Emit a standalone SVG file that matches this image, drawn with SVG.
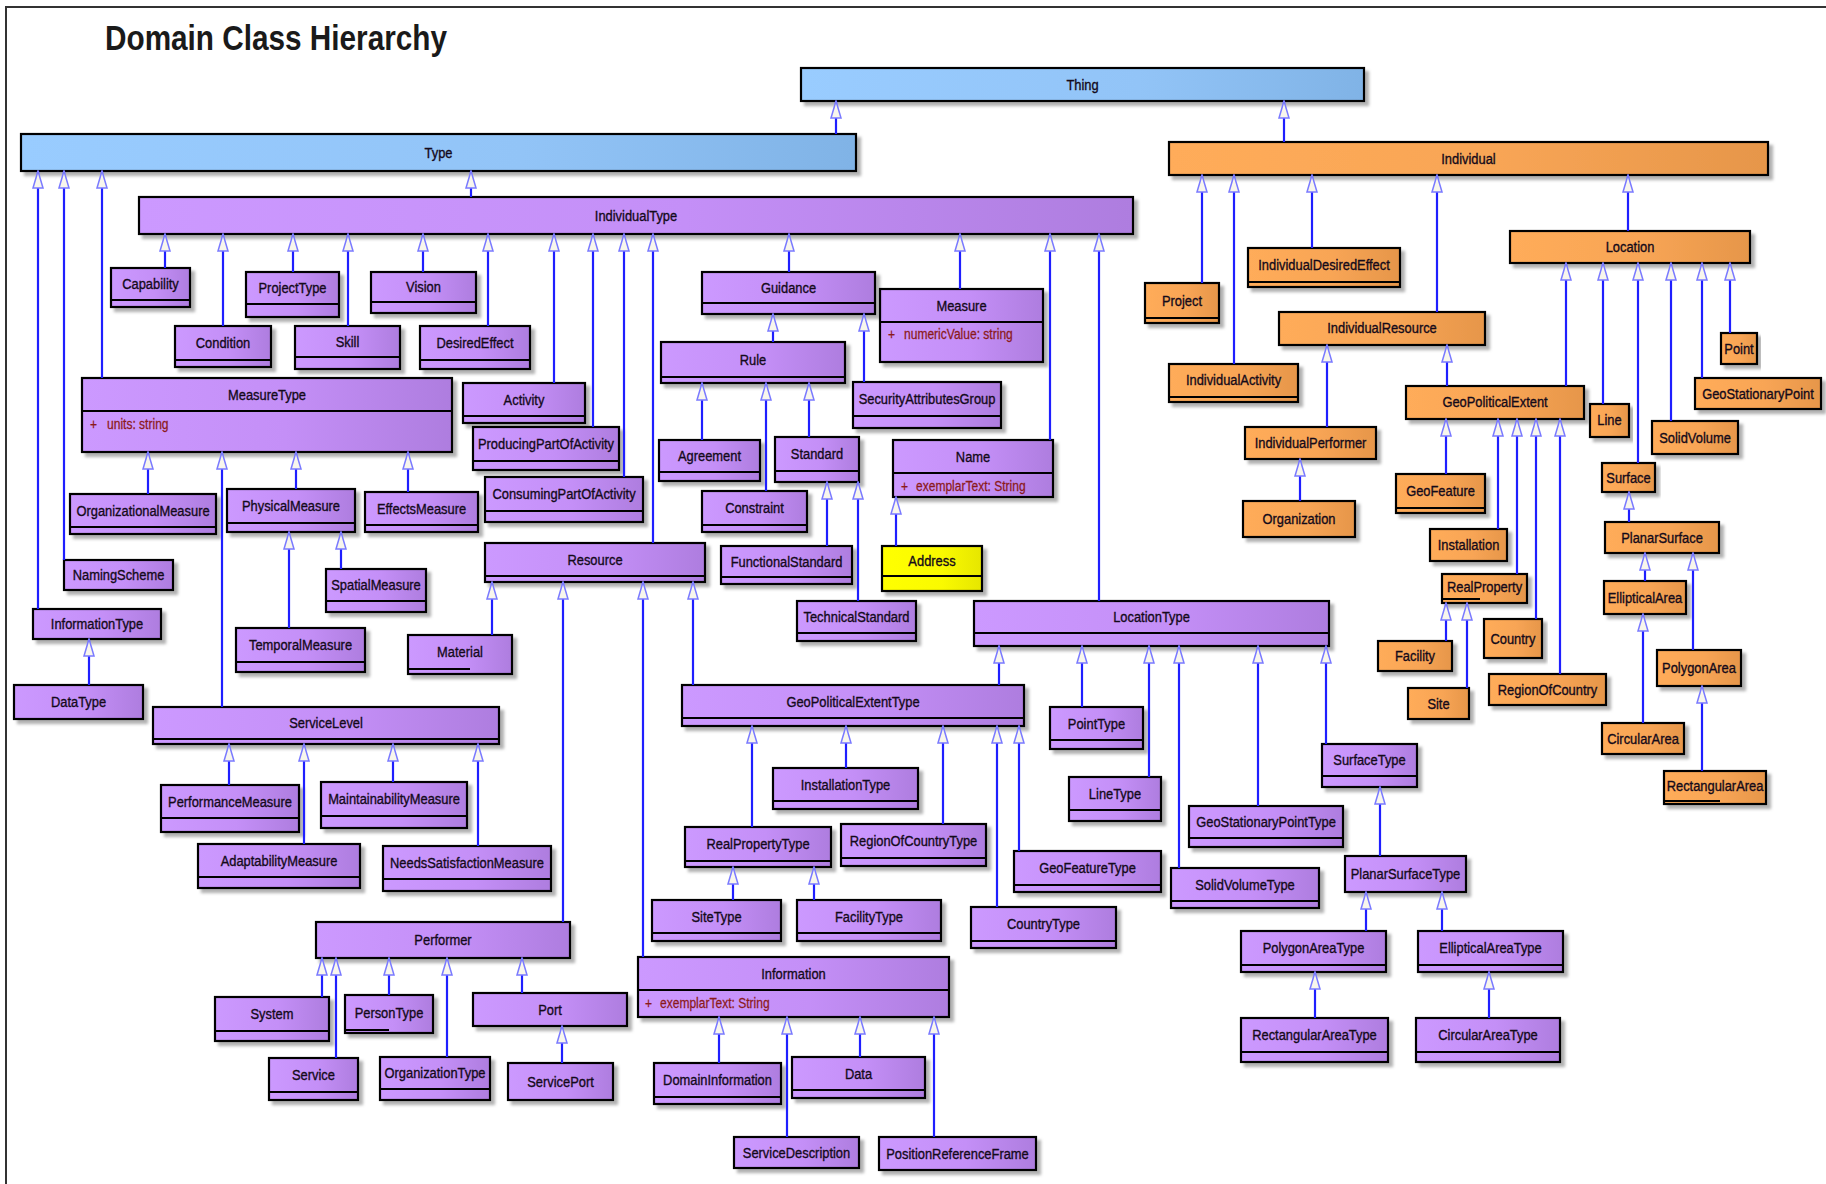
<svg xmlns="http://www.w3.org/2000/svg" width="1826" height="1184" viewBox="0 0 1826 1184">
<defs>
<linearGradient id="gp" x1="0" y1="0" x2="1" y2="0"><stop offset="0" stop-color="#cc99ff"/><stop offset="0.55" stop-color="#c48ff7"/><stop offset="1" stop-color="#ae7ddf"/></linearGradient>
<linearGradient id="go" x1="0" y1="0" x2="1" y2="0"><stop offset="0" stop-color="#ffac5a"/><stop offset="0.55" stop-color="#f8a555"/><stop offset="1" stop-color="#e6964a"/></linearGradient>
<linearGradient id="gb" x1="0" y1="0" x2="1" y2="0"><stop offset="0" stop-color="#99ccff"/><stop offset="0.6" stop-color="#92c4f7"/><stop offset="1" stop-color="#80b3e6"/></linearGradient>
<linearGradient id="gy" x1="0" y1="0" x2="1" y2="0"><stop offset="0" stop-color="#ffff00"/><stop offset="0.6" stop-color="#fafa00"/><stop offset="1" stop-color="#e6e600"/></linearGradient>
<filter id="sh" x="-5%" y="-10%" width="115%" height="140%"><feDropShadow dx="4" dy="4" stdDeviation="1.5" flood-color="#000" flood-opacity="0.3"/></filter>
<marker id="tri" viewBox="0 0 19 12" refX="18" refY="6" markerWidth="19" markerHeight="12" markerUnits="userSpaceOnUse" orient="auto"><path d="M1,1 L18,6 L1,11 Z" fill="#f8f6ec" stroke="#7a7aff" stroke-width="1.5"/></marker>
<style>
.b{stroke:#000;stroke-width:2.2;filter:url(#sh)}
.p{fill:url(#gp)}.o{fill:url(#go)}.bl{fill:url(#gb)}.y{fill:url(#gy)}
.cl{stroke:#000;stroke-width:2}
.lb{font-family:'Liberation Sans',Arial,sans-serif;font-size:15px;fill:#140a1a;stroke:#140a1a;stroke-width:0.35;text-anchor:middle}
.at{font-family:'Liberation Sans',Arial,sans-serif;font-size:14px;fill:#8b1a1a;stroke:#8b1a1a;stroke-width:0.25}
.e{stroke:#1f1fff;stroke-width:2.2;fill:none;marker-end:url(#tri)}
.fr{stroke:#333;stroke-width:2;fill:none}
.ti{font-family:'Liberation Sans',Arial,sans-serif;font-size:35px;font-weight:bold;fill:#1a1a1a}
</style>
</defs>
<rect width="1826" height="1184" fill="#fff"/>
<path class="fr" d="M6,1184 V7 H1826"/>
<text class="ti" x="105" y="50" textLength="342" lengthAdjust="spacingAndGlyphs">Domain Class Hierarchy</text>

<g id="nodes">
<g id="Thing"><rect class="b bl" x="801" y="68" width="563" height="33"/><text class="lb" transform="translate(1082.5,90) scale(0.86,1)">Thing</text></g>
<g id="Type"><rect class="b bl" x="21" y="134" width="835" height="37"/><text class="lb" transform="translate(438.5,158) scale(0.86,1)">Type</text></g>

<g id="Individual"><rect class="b o" x="1169" y="142" width="599" height="33"/><text class="lb" transform="translate(1468.5,164) scale(0.86,1)">Individual</text></g>
<g id="Location"><rect class="b o" x="1510" y="231" width="240" height="32"/><text class="lb" transform="translate(1630,252) scale(0.86,1)">Location</text></g>
<g id="IndividualDesiredEffect"><rect class="b o" x="1248" y="248" width="152" height="39"/><line class="cl" x1="1248" y1="282" x2="1400" y2="282"/><text class="lb" transform="translate(1324,270) scale(0.86,1)">IndividualDesiredEffect</text></g>
<g id="Project"><rect class="b o" x="1145" y="283" width="74" height="40"/><line class="cl" x1="1145" y1="318" x2="1219" y2="318"/><text class="lb" transform="translate(1182,306) scale(0.86,1)">Project</text></g>
<g id="IndividualActivity"><rect class="b o" x="1169" y="364" width="129" height="38"/><line class="cl" x1="1169" y1="397" x2="1298" y2="397"/><text class="lb" transform="translate(1233.5,385) scale(0.86,1)">IndividualActivity</text></g>
<g id="IndividualResource"><rect class="b o" x="1279" y="312" width="206" height="33"/><text class="lb" transform="translate(1382,333) scale(0.86,1)">IndividualResource</text></g>
<g id="IndividualPerformer"><rect class="b o" x="1245" y="427" width="131" height="32"/><text class="lb" transform="translate(1310.5,448) scale(0.86,1)">IndividualPerformer</text></g>
<g id="Organization"><rect class="b o" x="1243" y="501" width="112" height="36"/><text class="lb" transform="translate(1299,524) scale(0.86,1)">Organization</text></g>
<g id="GeoPoliticalExtent"><rect class="b o" x="1406" y="386" width="178" height="33"/><text class="lb" transform="translate(1495,407) scale(0.86,1)">GeoPoliticalExtent</text></g>
<g id="GeoFeature"><rect class="b o" x="1396" y="474" width="89" height="39"/><line class="cl" x1="1396" y1="508" x2="1485" y2="508"/><text class="lb" transform="translate(1440.5,496) scale(0.86,1)">GeoFeature</text></g>
<g id="Installation"><rect class="b o" x="1430" y="529" width="77" height="32"/><text class="lb" transform="translate(1468.5,550) scale(0.86,1)">Installation</text></g>
<g id="RealProperty"><rect class="b o" x="1442" y="574" width="85" height="29"/><line class="cl" x1="1442" y1="599" x2="1480" y2="599"/><text class="lb" transform="translate(1484.5,592) scale(0.86,1)">RealProperty</text></g>
<g id="Line"><rect class="b o" x="1590" y="404" width="39" height="33"/><text class="lb" transform="translate(1609.5,425) scale(0.86,1)">Line</text></g>
<g id="Point"><rect class="b o" x="1721" y="333" width="36" height="31"/><text class="lb" transform="translate(1739,354) scale(0.86,1)">Point</text></g>
<g id="GeoStationaryPoint"><rect class="b o" x="1695" y="378" width="126" height="31"/><text class="lb" transform="translate(1758,399) scale(0.86,1)">GeoStationaryPoint</text></g>
<g id="SolidVolume"><rect class="b o" x="1652" y="421" width="86" height="33"/><text class="lb" transform="translate(1695,443) scale(0.86,1)">SolidVolume</text></g>
<g id="Surface"><rect class="b o" x="1602" y="463" width="53" height="29"/><text class="lb" transform="translate(1628.5,483) scale(0.86,1)">Surface</text></g>
<g id="PlanarSurface"><rect class="b o" x="1605" y="522" width="114" height="31"/><text class="lb" transform="translate(1662,543) scale(0.86,1)">PlanarSurface</text></g>
<g id="EllipticalArea"><rect class="b o" x="1604" y="581" width="82" height="33"/><text class="lb" transform="translate(1645,603) scale(0.86,1)">EllipticalArea</text></g>
<g id="PolygonArea"><rect class="b o" x="1657" y="650" width="84" height="36"/><text class="lb" transform="translate(1699,673) scale(0.86,1)">PolygonArea</text></g>
<g id="CircularArea"><rect class="b o" x="1602" y="723" width="82" height="31"/><text class="lb" transform="translate(1643,744) scale(0.86,1)">CircularArea</text></g>
<g id="RectangularArea"><rect class="b o" x="1664" y="771" width="102" height="33"/><line class="cl" x1="1664" y1="801" x2="1720" y2="801"/><text class="lb" transform="translate(1715,791) scale(0.86,1)">RectangularArea</text></g>
<g id="Facility"><rect class="b o" x="1378" y="641" width="74" height="30"/><text class="lb" transform="translate(1415,661) scale(0.86,1)">Facility</text></g>
<g id="Site"><rect class="b o" x="1408" y="688" width="61" height="31"/><text class="lb" transform="translate(1438.5,709) scale(0.86,1)">Site</text></g>
<g id="Country"><rect class="b o" x="1484" y="619" width="58" height="39"/><text class="lb" transform="translate(1513,644) scale(0.86,1)">Country</text></g>
<g id="RegionOfCountry"><rect class="b o" x="1489" y="674" width="117" height="31"/><text class="lb" transform="translate(1547.5,695) scale(0.86,1)">RegionOfCountry</text></g>

<g id="IndividualType"><rect class="b p" x="139" y="197" width="994" height="37"/><text class="lb" transform="translate(636,221) scale(0.86,1)">IndividualType</text></g>
<g id="Capability"><rect class="b p" x="111" y="268" width="79" height="39"/><line class="cl" x1="111" y1="300" x2="190" y2="300"/><text class="lb" transform="translate(150.5,289) scale(0.86,1)">Capability</text></g>
<g id="ProjectType"><rect class="b p" x="246" y="272" width="93" height="45"/><line class="cl" x1="246" y1="304" x2="339" y2="304"/><text class="lb" transform="translate(292.5,293) scale(0.86,1)">ProjectType</text></g>
<g id="Vision"><rect class="b p" x="371" y="272" width="105" height="41"/><line class="cl" x1="371" y1="302" x2="476" y2="302"/><text class="lb" transform="translate(423.5,292) scale(0.86,1)">Vision</text></g>
<g id="Condition"><rect class="b p" x="175" y="326" width="96" height="41"/><line class="cl" x1="175" y1="360" x2="271" y2="360"/><text class="lb" transform="translate(223,348) scale(0.86,1)">Condition</text></g>
<g id="Skill"><rect class="b p" x="295" y="326" width="105" height="43"/><line class="cl" x1="295" y1="357" x2="400" y2="357"/><text class="lb" transform="translate(347.5,347) scale(0.86,1)">Skill</text></g>
<g id="DesiredEffect"><rect class="b p" x="420" y="326" width="110" height="43"/><line class="cl" x1="420" y1="360" x2="530" y2="360"/><text class="lb" transform="translate(475,348) scale(0.86,1)">DesiredEffect</text></g>
<g id="MeasureType"><rect class="b p" x="82" y="378" width="370" height="74"/><line class="cl" x1="82" y1="411" x2="452" y2="411"/><text class="lb" transform="translate(267,400) scale(0.86,1)">MeasureType</text><text class="at" transform="translate(90,429) scale(0.86,1)">+</text><text class="at" transform="translate(107,429) scale(0.86,1)">units: string</text></g>
<g id="Activity"><rect class="b p" x="463" y="383" width="122" height="40"/><line class="cl" x1="463" y1="416" x2="585" y2="416"/><text class="lb" transform="translate(524,405) scale(0.86,1)">Activity</text></g>
<g id="ProducingPartOfActivity"><rect class="b p" x="473" y="427" width="146" height="43"/><line class="cl" x1="473" y1="461" x2="619" y2="461"/><text class="lb" transform="translate(546,449) scale(0.86,1)">ProducingPartOfActivity</text></g>
<g id="ConsumingPartOfActivity"><rect class="b p" x="485" y="477" width="158" height="45"/><line class="cl" x1="485" y1="511" x2="643" y2="511"/><text class="lb" transform="translate(564,499) scale(0.86,1)">ConsumingPartOfActivity</text></g>
<g id="Resource"><rect class="b p" x="485" y="543" width="220" height="39"/><line class="cl" x1="485" y1="576" x2="705" y2="576"/><text class="lb" transform="translate(595,565) scale(0.86,1)">Resource</text></g>
<g id="OrganizationalMeasure"><rect class="b p" x="70" y="494" width="146" height="40"/><line class="cl" x1="70" y1="527" x2="216" y2="527"/><text class="lb" transform="translate(143,516) scale(0.86,1)">OrganizationalMeasure</text></g>
<g id="PhysicalMeasure"><rect class="b p" x="227" y="489" width="128" height="43"/><line class="cl" x1="227" y1="523" x2="355" y2="523"/><text class="lb" transform="translate(291,511) scale(0.86,1)">PhysicalMeasure</text></g>
<g id="EffectsMeasure"><rect class="b p" x="365" y="492" width="113" height="40"/><line class="cl" x1="365" y1="525" x2="478" y2="525"/><text class="lb" transform="translate(421.5,514) scale(0.86,1)">EffectsMeasure</text></g>
<g id="NamingScheme"><rect class="b p" x="64" y="560" width="109" height="30"/><text class="lb" transform="translate(118.5,580) scale(0.86,1)">NamingScheme</text></g>
<g id="SpatialMeasure"><rect class="b p" x="326" y="569" width="100" height="43"/><line class="cl" x1="326" y1="601" x2="426" y2="601"/><text class="lb" transform="translate(376,590) scale(0.86,1)">SpatialMeasure</text></g>
<g id="InformationType"><rect class="b p" x="33" y="609" width="128" height="30"/><text class="lb" transform="translate(97,629) scale(0.86,1)">InformationType</text></g>
<g id="DataType"><rect class="b p" x="14" y="685" width="129" height="34"/><text class="lb" transform="translate(78.5,707) scale(0.86,1)">DataType</text></g>
<g id="TemporalMeasure"><rect class="b p" x="236" y="628" width="129" height="44"/><line class="cl" x1="236" y1="662" x2="365" y2="662"/><text class="lb" transform="translate(300.5,650) scale(0.86,1)">TemporalMeasure</text></g>
<g id="Material"><rect class="b p" x="408" y="635" width="104" height="39"/><line class="cl" x1="408" y1="669" x2="470" y2="669"/><text class="lb" transform="translate(460,657) scale(0.86,1)">Material</text></g>
<g id="ServiceLevel"><rect class="b p" x="153" y="707" width="346" height="37"/><line class="cl" x1="153" y1="739" x2="499" y2="739"/><text class="lb" transform="translate(326,728) scale(0.86,1)">ServiceLevel</text></g>
<g id="PerformanceMeasure"><rect class="b p" x="161" y="785" width="138" height="47"/><line class="cl" x1="161" y1="818" x2="299" y2="818"/><text class="lb" transform="translate(230,807) scale(0.86,1)">PerformanceMeasure</text></g>
<g id="MaintainabilityMeasure"><rect class="b p" x="321" y="782" width="146" height="46"/><line class="cl" x1="321" y1="816" x2="467" y2="816"/><text class="lb" transform="translate(394,804) scale(0.86,1)">MaintainabilityMeasure</text></g>
<g id="AdaptabilityMeasure"><rect class="b p" x="198" y="844" width="162" height="44"/><line class="cl" x1="198" y1="877" x2="360" y2="877"/><text class="lb" transform="translate(279,866) scale(0.86,1)">AdaptabilityMeasure</text></g>
<g id="NeedsSatisfactionMeasure"><rect class="b p" x="383" y="846" width="168" height="45"/><line class="cl" x1="383" y1="879" x2="551" y2="879"/><text class="lb" transform="translate(467,868) scale(0.86,1)">NeedsSatisfactionMeasure</text></g>
<g id="Performer"><rect class="b p" x="316" y="922" width="254" height="36"/><text class="lb" transform="translate(443,945) scale(0.86,1)">Performer</text></g>
<g id="System"><rect class="b p" x="215" y="997" width="114" height="44"/><line class="cl" x1="215" y1="1031" x2="329" y2="1031"/><text class="lb" transform="translate(272,1019) scale(0.86,1)">System</text></g>
<g id="PersonType"><rect class="b p" x="345" y="995" width="88" height="38"/><line class="cl" x1="345" y1="1030" x2="389" y2="1030"/><text class="lb" transform="translate(389,1018) scale(0.86,1)">PersonType</text></g>
<g id="Port"><rect class="b p" x="473" y="993" width="154" height="33"/><text class="lb" transform="translate(550,1015) scale(0.86,1)">Port</text></g>
<g id="Service"><rect class="b p" x="269" y="1058" width="89" height="42"/><line class="cl" x1="269" y1="1092" x2="358" y2="1092"/><text class="lb" transform="translate(313.5,1080) scale(0.86,1)">Service</text></g>
<g id="OrganizationType"><rect class="b p" x="380" y="1057" width="110" height="43"/><line class="cl" x1="380" y1="1089" x2="490" y2="1089"/><text class="lb" transform="translate(435,1078) scale(0.86,1)">OrganizationType</text></g>
<g id="ServicePort"><rect class="b p" x="508" y="1063" width="105" height="37"/><text class="lb" transform="translate(560.5,1087) scale(0.86,1)">ServicePort</text></g>
<g id="Information"><rect class="b p" x="638" y="957" width="311" height="60"/><line class="cl" x1="638" y1="990" x2="949" y2="990"/><text class="lb" transform="translate(793.5,979) scale(0.86,1)">Information</text><text class="at" transform="translate(645,1008) scale(0.86,1)">+</text><text class="at" transform="translate(660,1008) scale(0.86,1)">exemplarText: String</text></g>
<g id="DomainInformation"><rect class="b p" x="654" y="1063" width="127" height="41"/><line class="cl" x1="654" y1="1097" x2="781" y2="1097"/><text class="lb" transform="translate(717.5,1085) scale(0.86,1)">DomainInformation</text></g>
<g id="Data"><rect class="b p" x="792" y="1057" width="133" height="41"/><line class="cl" x1="792" y1="1090" x2="925" y2="1090"/><text class="lb" transform="translate(858.5,1079) scale(0.86,1)">Data</text></g>
<g id="ServiceDescription"><rect class="b p" x="734" y="1137" width="125" height="31"/><text class="lb" transform="translate(796.5,1158) scale(0.86,1)">ServiceDescription</text></g>
<g id="PositionReferenceFrame"><rect class="b p" x="879" y="1137" width="157" height="33"/><text class="lb" transform="translate(957.5,1159) scale(0.86,1)">PositionReferenceFrame</text></g>
<g id="SiteType"><rect class="b p" x="652" y="900" width="129" height="41"/><line class="cl" x1="652" y1="933" x2="781" y2="933"/><text class="lb" transform="translate(716.5,922) scale(0.86,1)">SiteType</text></g>
<g id="FacilityType"><rect class="b p" x="797" y="900" width="144" height="41"/><line class="cl" x1="797" y1="933" x2="941" y2="933"/><text class="lb" transform="translate(869,922) scale(0.86,1)">FacilityType</text></g>
<g id="CountryType"><rect class="b p" x="971" y="907" width="145" height="41"/><line class="cl" x1="971" y1="941" x2="1116" y2="941"/><text class="lb" transform="translate(1043.5,929) scale(0.86,1)">CountryType</text></g>
<g id="GeoFeatureType"><rect class="b p" x="1014" y="851" width="147" height="41"/><line class="cl" x1="1014" y1="885" x2="1161" y2="885"/><text class="lb" transform="translate(1087.5,873) scale(0.86,1)">GeoFeatureType</text></g>
<g id="SolidVolumeType"><rect class="b p" x="1171" y="868" width="148" height="40"/><line class="cl" x1="1171" y1="901" x2="1319" y2="901"/><text class="lb" transform="translate(1245,890) scale(0.86,1)">SolidVolumeType</text></g>
<g id="PlanarSurfaceType"><rect class="b p" x="1345" y="856" width="121" height="36"/><text class="lb" transform="translate(1405.5,879) scale(0.86,1)">PlanarSurfaceType</text></g>
<g id="PolygonAreaType"><rect class="b p" x="1241" y="931" width="145" height="41"/><line class="cl" x1="1241" y1="965" x2="1386" y2="965"/><text class="lb" transform="translate(1313.5,953) scale(0.86,1)">PolygonAreaType</text></g>
<g id="EllipticalAreaType"><rect class="b p" x="1418" y="931" width="145" height="41"/><line class="cl" x1="1418" y1="965" x2="1563" y2="965"/><text class="lb" transform="translate(1490.5,953) scale(0.86,1)">EllipticalAreaType</text></g>
<g id="RectangularAreaType"><rect class="b p" x="1241" y="1018" width="147" height="44"/><line class="cl" x1="1241" y1="1052" x2="1388" y2="1052"/><text class="lb" transform="translate(1314.5,1040) scale(0.86,1)">RectangularAreaType</text></g>
<g id="CircularAreaType"><rect class="b p" x="1416" y="1018" width="144" height="44"/><line class="cl" x1="1416" y1="1052" x2="1560" y2="1052"/><text class="lb" transform="translate(1488,1040) scale(0.86,1)">CircularAreaType</text></g>
<g id="GeoPoliticalExtentType"><rect class="b p" x="682" y="685" width="342" height="41"/><line class="cl" x1="682" y1="718" x2="1024" y2="718"/><text class="lb" transform="translate(853,707) scale(0.86,1)">GeoPoliticalExtentType</text></g>
<g id="InstallationType"><rect class="b p" x="773" y="768" width="145" height="41"/><line class="cl" x1="773" y1="801" x2="918" y2="801"/><text class="lb" transform="translate(845.5,790) scale(0.86,1)">InstallationType</text></g>
<g id="RealPropertyType"><rect class="b p" x="685" y="827" width="146" height="40"/><line class="cl" x1="685" y1="861" x2="831" y2="861"/><text class="lb" transform="translate(758,849) scale(0.86,1)">RealPropertyType</text></g>
<g id="RegionOfCountryType"><rect class="b p" x="841" y="824" width="145" height="42"/><line class="cl" x1="841" y1="858" x2="986" y2="858"/><text class="lb" transform="translate(913.5,846) scale(0.86,1)">RegionOfCountryType</text></g>
<g id="PointType"><rect class="b p" x="1050" y="707" width="93" height="42"/><line class="cl" x1="1050" y1="740" x2="1143" y2="740"/><text class="lb" transform="translate(1096.5,729) scale(0.86,1)">PointType</text></g>
<g id="LineType"><rect class="b p" x="1069" y="777" width="92" height="44"/><line class="cl" x1="1069" y1="810" x2="1161" y2="810"/><text class="lb" transform="translate(1115,799) scale(0.86,1)">LineType</text></g>
<g id="GeoStationaryPointType"><rect class="b p" x="1189" y="806" width="154" height="41"/><line class="cl" x1="1189" y1="838" x2="1343" y2="838"/><text class="lb" transform="translate(1266,827) scale(0.86,1)">GeoStationaryPointType</text></g>
<g id="SurfaceType"><rect class="b p" x="1322" y="744" width="95" height="43"/><line class="cl" x1="1322" y1="776" x2="1417" y2="776"/><text class="lb" transform="translate(1369.5,765) scale(0.86,1)">SurfaceType</text></g>
<g id="LocationType"><rect class="b p" x="974" y="601" width="355" height="45"/><line class="cl" x1="974" y1="633" x2="1329" y2="633"/><text class="lb" transform="translate(1151.5,622) scale(0.86,1)">LocationType</text></g>
<g id="TechnicalStandard"><rect class="b p" x="797" y="601" width="119" height="40"/><line class="cl" x1="797" y1="633" x2="916" y2="633"/><text class="lb" transform="translate(856.5,622) scale(0.86,1)">TechnicalStandard</text></g>
<g id="Address"><rect class="b y" x="882" y="546" width="100" height="45"/><line class="cl" x1="882" y1="576" x2="982" y2="576"/><text class="lb" transform="translate(932,566) scale(0.86,1)">Address</text></g>
<g id="FunctionalStandard"><rect class="b p" x="721" y="546" width="131" height="38"/><line class="cl" x1="721" y1="577" x2="852" y2="577"/><text class="lb" transform="translate(786.5,567) scale(0.86,1)">FunctionalStandard</text></g>
<g id="Constraint"><rect class="b p" x="702" y="491" width="105" height="41"/><line class="cl" x1="702" y1="525" x2="807" y2="525"/><text class="lb" transform="translate(754.5,513) scale(0.86,1)">Constraint</text></g>
<g id="Agreement"><rect class="b p" x="659" y="440" width="101" height="41"/><line class="cl" x1="659" y1="472" x2="760" y2="472"/><text class="lb" transform="translate(709.5,461) scale(0.86,1)">Agreement</text></g>
<g id="Standard"><rect class="b p" x="775" y="437" width="84" height="45"/><line class="cl" x1="775" y1="471" x2="859" y2="471"/><text class="lb" transform="translate(817,459) scale(0.86,1)">Standard</text></g>
<g id="Name"><rect class="b p" x="893" y="440" width="160" height="57"/><line class="cl" x1="893" y1="473" x2="1053" y2="473"/><text class="lb" transform="translate(973,462) scale(0.86,1)">Name</text><text class="at" transform="translate(901,491) scale(0.86,1)">+</text><text class="at" transform="translate(916,491) scale(0.86,1)">exemplarText: String</text></g>
<g id="Rule"><rect class="b p" x="661" y="342" width="184" height="41"/><line class="cl" x1="661" y1="377" x2="845" y2="377"/><text class="lb" transform="translate(753,365) scale(0.86,1)">Rule</text></g>
<g id="SecurityAttributesGroup"><rect class="b p" x="853" y="382" width="148" height="46"/><line class="cl" x1="853" y1="416" x2="1001" y2="416"/><text class="lb" transform="translate(927,404) scale(0.86,1)">SecurityAttributesGroup</text></g>
<g id="Measure"><rect class="b p" x="880" y="289" width="163" height="73"/><line class="cl" x1="880" y1="322" x2="1043" y2="322"/><text class="lb" transform="translate(961.5,311) scale(0.86,1)">Measure</text><text class="at" transform="translate(888,339) scale(0.86,1)">+</text><text class="at" transform="translate(904,339) scale(0.86,1)">numericValue: string</text></g>
<g id="Guidance"><rect class="b p" x="702" y="272" width="173" height="42"/><line class="cl" x1="702" y1="303" x2="875" y2="303"/><text class="lb" transform="translate(788.5,293) scale(0.86,1)">Guidance</text></g>
</g>

<g id="connectors">
<path class="e" d="M836,134V101"/><path class="e" d="M1284,142V101"/>
<path class="e" d="M471,197V171"/><path class="e" d="M38,609V171"/><path class="e" d="M64,560V171"/><path class="e" d="M102,378V171"/>
<path class="e" d="M165,268V234"/><path class="e" d="M223,326V234"/><path class="e" d="M293,272V234"/><path class="e" d="M348,326V234"/><path class="e" d="M423,272V234"/><path class="e" d="M488,326V234"/><path class="e" d="M554,383V234"/><path class="e" d="M593,427V234"/><path class="e" d="M624,477V234"/><path class="e" d="M653,543V234"/><path class="e" d="M789,272V234"/><path class="e" d="M960,289V234"/><path class="e" d="M1050,440V234"/><path class="e" d="M1099,601V234"/>
<path class="e" d="M1202,283V175"/><path class="e" d="M1234,364V175"/><path class="e" d="M1312,248V175"/><path class="e" d="M1437,312V175"/><path class="e" d="M1628,231V175"/>
<path class="e" d="M1566,386V263"/><path class="e" d="M1603,404V263"/><path class="e" d="M1638,463V263"/><path class="e" d="M1671,421V263"/><path class="e" d="M1702,378V263"/><path class="e" d="M1730,333V263"/>
<path class="e" d="M1327,427V345"/><path class="e" d="M1447,386V345"/>
<path class="e" d="M1300,501V459"/>
<path class="e" d="M1446,474V419"/><path class="e" d="M1498,529V419"/><path class="e" d="M1517,574V419"/><path class="e" d="M1536,619V419"/><path class="e" d="M1560,674V419"/>
<path class="e" d="M1446,641V603"/><path class="e" d="M1467,688V603"/>
<path class="e" d="M1629,522V492"/>
<path class="e" d="M1645,581V553"/><path class="e" d="M1693,650V553"/>
<path class="e" d="M1643,723V614"/>
<path class="e" d="M1702,771V686"/>
<path class="e" d="M773,342V314"/><path class="e" d="M864,382V314"/>
<path class="e" d="M702,440V383"/><path class="e" d="M766,491V383"/><path class="e" d="M809,437V383"/>
<path class="e" d="M827,546V482"/><path class="e" d="M858,601V482"/>
<path class="e" d="M896,546V497"/>
<path class="e" d="M148,494V452"/><path class="e" d="M222,707V452"/><path class="e" d="M296,489V452"/><path class="e" d="M408,492V452"/>
<path class="e" d="M289,628V532"/><path class="e" d="M341,569V532"/>
<path class="e" d="M89,685V639"/>
<path class="e" d="M229,785V744"/><path class="e" d="M304,844V744"/><path class="e" d="M393,782V744"/><path class="e" d="M478,846V744"/>
<path class="e" d="M492,635V582"/><path class="e" d="M563,922V582"/><path class="e" d="M643,957V582"/><path class="e" d="M693,685V582"/>
<path class="e" d="M322,997V958"/><path class="e" d="M336,1058V958"/><path class="e" d="M389,995V958"/><path class="e" d="M447,1057V958"/><path class="e" d="M522,993V958"/>
<path class="e" d="M562,1063V1026"/>
<path class="e" d="M719,1063V1017"/><path class="e" d="M787,1137V1017"/><path class="e" d="M860,1057V1017"/><path class="e" d="M934,1137V1017"/>
<path class="e" d="M752,827V726"/><path class="e" d="M846,768V726"/><path class="e" d="M943,824V726"/><path class="e" d="M997,907V726"/><path class="e" d="M1019,851V726"/>
<path class="e" d="M733,900V867"/><path class="e" d="M814,900V867"/>
<path class="e" d="M999,685V646"/><path class="e" d="M1082,707V646"/><path class="e" d="M1149,777V646"/><path class="e" d="M1179,868V646"/><path class="e" d="M1258,806V646"/><path class="e" d="M1326,744V646"/>
<path class="e" d="M1380,856V787"/>
<path class="e" d="M1366,931V892"/><path class="e" d="M1442,931V892"/>
<path class="e" d="M1315,1018V972"/>
<path class="e" d="M1489,1018V972"/>
</g>
</svg>
